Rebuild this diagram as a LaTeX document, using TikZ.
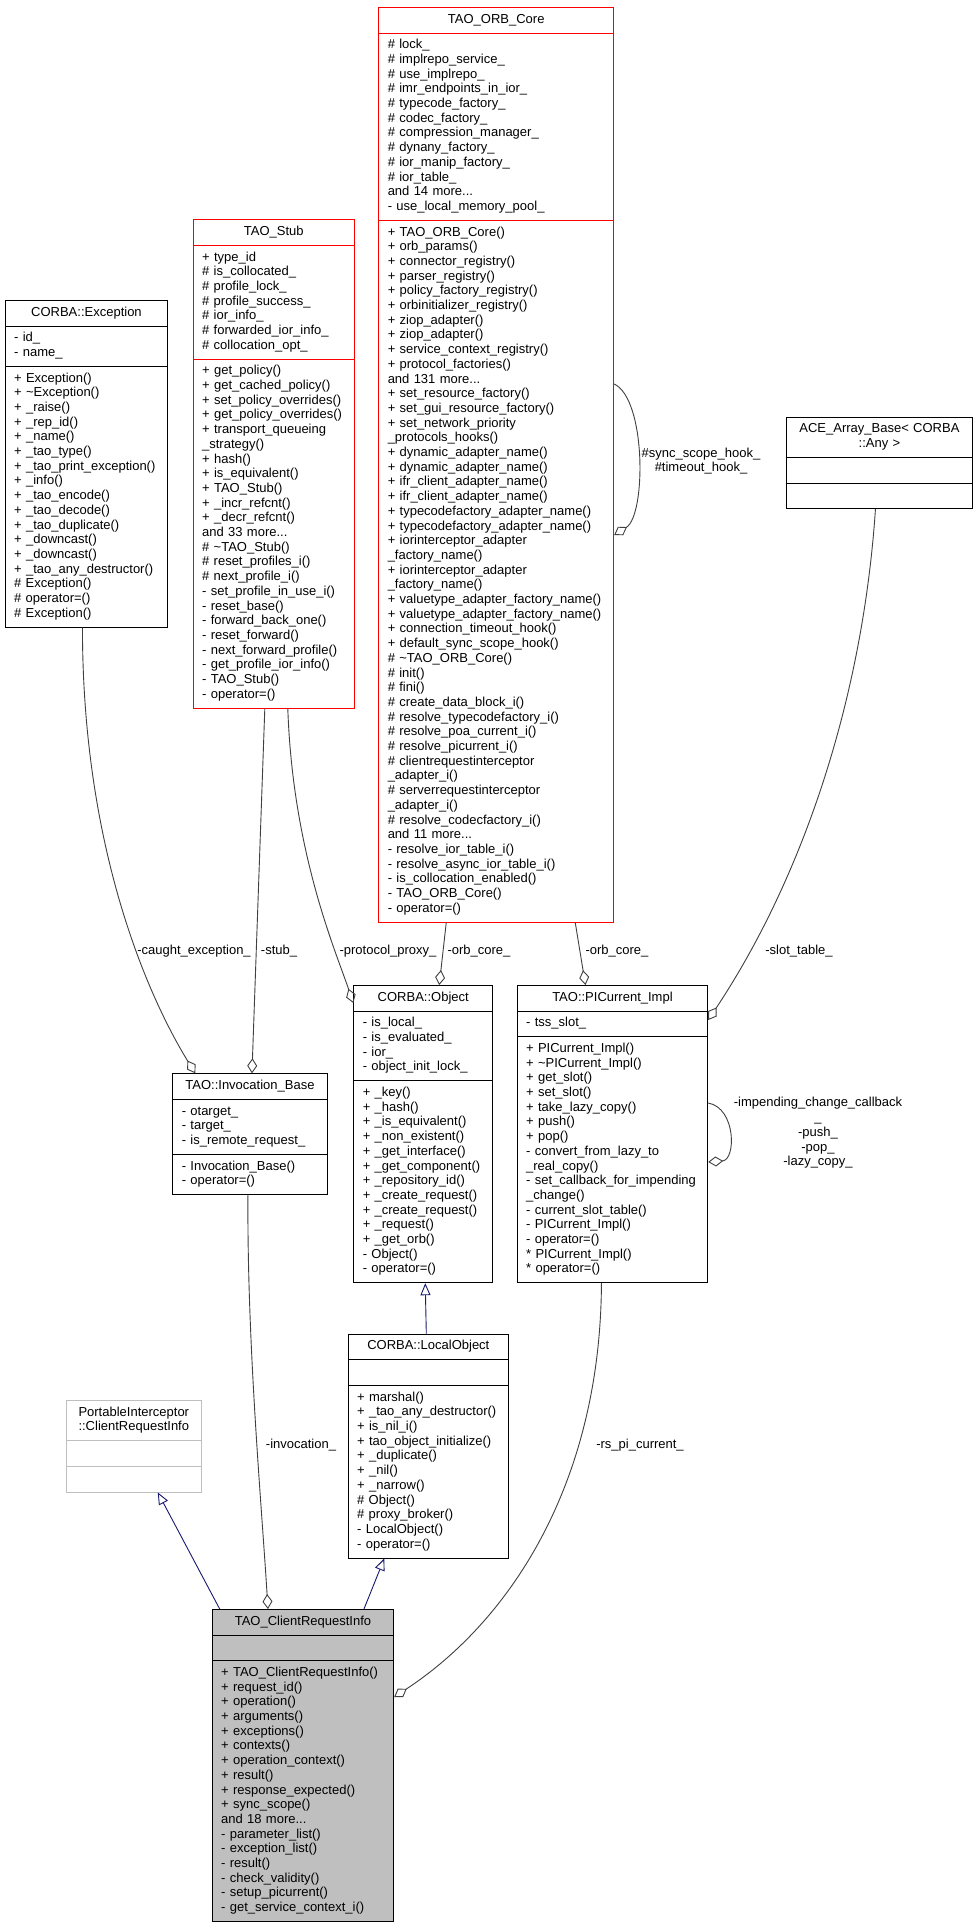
\documentclass[tikz,border=0pt]{standalone}
\usepackage{fontspec}
\setmainfont{Liberation Sans}
\usetikzlibrary{shapes.multipart,arrows.meta}
\definecolor{edgegray}{HTML}{404040}
\definecolor{inhblue}{HTML}{191970}
\definecolor{lightborder}{HTML}{BFBFBF}
\definecolor{currentfill}{HTML}{BFBFBF}
% title, attributes, methods of one class box
\newcommand{\classparts}[3]{\parbox[t]{\hsize}{\centering\strut#1\strut}\nodepart{two}\strut#2\strut\nodepart{three}\strut#3\strut}

\begin{document}
\begin{tikzpicture}[x=1pt, y=-1pt,
  cls/.style={rectangle split, rectangle split parts=3, draw=black, line width=0.9pt,
    fill=white, text width=#1, inner xsep=9pt, inner ysep=5pt, align=left,
    anchor=north west, font=\fontsize{13}{14.7}\selectfont},
  trunc/.style={draw=red},
  assoc/.style={draw=edgegray, line width=0.9pt, -{Diamond[open, length=15pt, width=10pt]}},
  inherit/.style={draw=inhblue, line width=0.9pt, -{Triangle[open, length=12pt, width=10pt]}},
  lbl/.style={font=\fontsize{13}{14.7}\selectfont, inner sep=0pt}]

  \path[use as bounding box, fill=white] (0,0) rectangle (976,1925);

  % Upper row
  \node[cls=217pt, trunc] (orb) at (378.3,7) {\classparts{TAO\_ORB\_Core}
    {\# lock\_\\\# implrepo\_service\_\\\# use\_implrepo\_\\\# imr\_endpoints\_in\_ior\_\\
     \# typecode\_factory\_\\\# codec\_factory\_\\\# compression\_manager\_\\\# dynany\_factory\_\\
     \# ior\_manip\_factory\_\\\# ior\_table\_\\and 14 more...\\- use\_local\_memory\_pool\_}
    {+ TAO\_ORB\_Core()\\+ orb\_params()\\+ connector\_registry()\\+ parser\_registry()\\
     + policy\_factory\_registry()\\+ orbinitializer\_registry()\\+ ziop\_adapter()\\+ ziop\_adapter()\\
     + service\_context\_registry()\\+ protocol\_factories()\\and 131 more...\\
     + set\_resource\_factory()\\+ set\_gui\_resource\_factory()\\+ set\_network\_priority\\
     \_protocols\_hooks()\\+ dynamic\_adapter\_name()\\+ dynamic\_adapter\_name()\\
     + ifr\_client\_adapter\_name()\\+ ifr\_client\_adapter\_name()\\
     + typecodefactory\_adapter\_name()\\+ typecodefactory\_adapter\_name()\\
     + iorinterceptor\_adapter\\\_factory\_name()\\+ iorinterceptor\_adapter\\\_factory\_name()\\
     + valuetype\_adapter\_factory\_name()\\+ valuetype\_adapter\_factory\_name()\\
     + connection\_timeout\_hook()\\+ default\_sync\_scope\_hook()\\\# \textasciitilde TAO\_ORB\_Core()\\
     \# init()\\\# fini()\\\# create\_data\_block\_i()\\\# resolve\_typecodefactory\_i()\\
     \# resolve\_poa\_current\_i()\\\# resolve\_picurrent\_i()\\\# clientrequestinterceptor\\
     \_adapter\_i()\\\# serverrequestinterceptor\\\_adapter\_i()\\\# resolve\_codecfactory\_i()\\
     and 11 more...\\- resolve\_ior\_table\_i()\\- resolve\_async\_ior\_table\_i()\\
     - is\_collocation\_enabled()\\- TAO\_ORB\_Core()\\- operator=()}};

  \node[cls=143.3pt, trunc] (stub) at (192.7,219.3) {\classparts{TAO\_Stub}
    {+ type\_id\\\# is\_collocated\_\\\# profile\_lock\_\\\# profile\_success\_\\\# ior\_info\_\\
     \# forwarded\_ior\_info\_\\\# collocation\_opt\_}
    {+ get\_policy()\\+ get\_cached\_policy()\\+ set\_policy\_overrides()\\+ get\_policy\_overrides()\\
     + transport\_queueing\\\_strategy()\\+ hash()\\+ is\_equivalent()\\+ TAO\_Stub()\\
     + \_incr\_refcnt()\\+ \_decr\_refcnt()\\and 33 more...\\\# \textasciitilde TAO\_Stub()\\
     \# reset\_profiles\_i()\\\# next\_profile\_i()\\- set\_profile\_in\_use\_i()\\- reset\_base()\\
     - forward\_back\_one()\\- reset\_forward()\\- next\_forward\_profile()\\
     - get\_profile\_ior\_info()\\- TAO\_Stub()\\- operator=()}};

  \node[cls=144.6pt] (exc) at (4.7,300) {\classparts{CORBA::Exception}
    {- id\_\\- name\_}
    {+ Exception()\\+ \textasciitilde Exception()\\+ \_raise()\\+ \_rep\_id()\\+ \_name()\\
     + \_tao\_type()\\+ \_tao\_print\_exception()\\+ \_info()\\+ \_tao\_encode()\\
     + \_tao\_decode()\\+ \_tao\_duplicate()\\+ \_downcast()\\+ \_downcast()\\
     + \_tao\_any\_destructor()\\\# Exception()\\\# operator=()\\\# Exception()}};

  \node[cls=168.6pt] (ace) at (785.7,416.7) {\classparts{ACE\_Array\_Base< CORBA\\::Any >}{}{}};

  % Middle row
  \node[cls=136.4pt] (invb) at (172.3,1073.3) {\classparts{TAO::Invocation\_Base}
    {- otarget\_\\- target\_\\- is\_remote\_request\_}
    {- Invocation\_Base()\\- operator=()}};

  \node[cls=121pt] (obj) at (353.3,985) {\classparts{CORBA::Object}
    {- is\_local\_\\- is\_evaluated\_\\- ior\_\\- object\_init\_lock\_}
    {+ \_key()\\+ \_hash()\\+ \_is\_equivalent()\\+ \_non\_existent()\\+ \_get\_interface()\\
     + \_get\_component()\\+ \_repository\_id()\\+ \_create\_request()\\+ \_create\_request()\\
     + \_request()\\+ \_get\_orb()\\- Object()\\- operator=()}};

  \node[cls=172.6pt] (pic) at (516.7,985) {\classparts{TAO::PICurrent\_Impl}
    {- tss\_slot\_}
    {+ PICurrent\_Impl()\\+ \textasciitilde PICurrent\_Impl()\\+ get\_slot()\\+ set\_slot()\\
     + take\_lazy\_copy()\\+ push()\\+ pop()\\- convert\_from\_lazy\_to\\\_real\_copy()\\
     - set\_callback\_for\_impending\\\_change()\\- current\_slot\_table()\\- PICurrent\_Impl()\\
     - operator=()\\{*} PICurrent\_Impl()\\{*} operator=()}};

  % Lower row
  \node[cls=142.3pt] (lobj) at (347.7,1333.7) {\classparts{CORBA::LocalObject}{}
    {+ marshal()\\+ \_tao\_any\_destructor()\\+ is\_nil\_i()\\+ tao\_object\_initialize()\\
     + \_duplicate()\\+ \_nil()\\+ \_narrow()\\\# Object()\\\# proxy\_broker()\\
     - LocalObject()\\- operator=()}};

  \node[cls=116.7pt, draw=lightborder] (pici) at (66,1400)
    {\classparts{PortableInterceptor\\::ClientRequestInfo}{}{}};

  \node[cls=163.6pt, fill=currentfill] (crinfo) at (211.7,1609) {\classparts{TAO\_ClientRequestInfo}{}
    {+ TAO\_ClientRequestInfo()\\+ request\_id()\\+ operation()\\+ arguments()\\+ exceptions()\\
     + contexts()\\+ operation\_context()\\+ result()\\+ response\_expected()\\+ sync\_scope()\\
     and 18 more...\\- parameter\_list()\\- exception\_list()\\- result()\\- check\_validity()\\
     - setup\_picurrent()\\- get\_service\_context\_i()}};

  % Associations
  \draw[assoc] ([xshift=-4pt]exc.south) .. controls +(0,225) and +(-45,-73) .. ([xshift=23pt]invb.north west);
  \draw[assoc] ([xshift=-9pt]stub.south) -- ([xshift=2pt]invb.north);
  \draw[assoc] ([xshift=14pt]stub.south) .. controls +(5,144) and +(-18,-53) .. ([yshift=-18pt]obj.north west);
  \draw[assoc] ([xshift=-50pt]orb.south) -- ([xshift=16pt]obj.north);
  \draw[assoc] ([xshift=79pt]orb.south) -- ([xshift=-27pt]pic.north);
  \draw[assoc] ([yshift=-377pt]orb.north east) .. controls +(32,15) and +(32,-20) .. ([yshift=-528pt]orb.north east);
  \draw[assoc] ([xshift=-4pt]ace.south) .. controls +(-13,193) and +(93,-140) .. ([yshift=-35pt]pic.north east);
  \draw[assoc] ([yshift=-118pt]pic.north east) .. controls +(28,5) and +(28,-2) .. ([yshift=-177pt]pic.north east);
  \draw[assoc] ([xshift=-2pt]invb.south) .. controls +(-1,150) and +(-6,-100) .. ([xshift=-35pt]crinfo.north);
  \draw[assoc] ([xshift=-11pt]pic.south) .. controls +(-1,199) and +(117,-77) .. ([yshift=-88pt]crinfo.north east);

  % Generalizations
  \draw[inherit] ([xshift=8pt]crinfo.north west) -- ([xshift=24pt]pici.south);
  \draw[inherit] ([xshift=61pt]crinfo.north) -- ([xshift=-44pt]lobj.south);
  \draw[inherit] ([xshift=-2pt]lobj.north) -- ([xshift=2pt]obj.south);

  % Edge labels
  \node[lbl] (lcaught) at (194,951) {-caught\_exception\_};
  \node[lbl] (lstub) at (279,951) {-stub\_};
  \node[lbl] (lproxy) at (388,951) {-protocol\_proxy\_};
  \node[lbl] (lorbobj) at (479,951) {-orb\_core\_};
  \node[lbl] (lorbpic) at (617,951) {-orb\_core\_};
  \node[lbl] (lslot) at (799,951) {-slot\_table\_};
  \node[lbl, align=center] (lhook) at (701,461) {\#sync\_scope\_hook\_\\\#timeout\_hook\_};
  \node[lbl, align=center] (lcopy) at (818,1133)
    {-impending\_change\_callback\\\_\\-push\_\\-pop\_\\-lazy\_copy\_};
  \node[lbl] (linv) at (301,1445) {-invocation\_};
  \node[lbl] (lrs) at (640,1445) {-rs\_pi\_current\_};
\end{tikzpicture}
\end{document}
